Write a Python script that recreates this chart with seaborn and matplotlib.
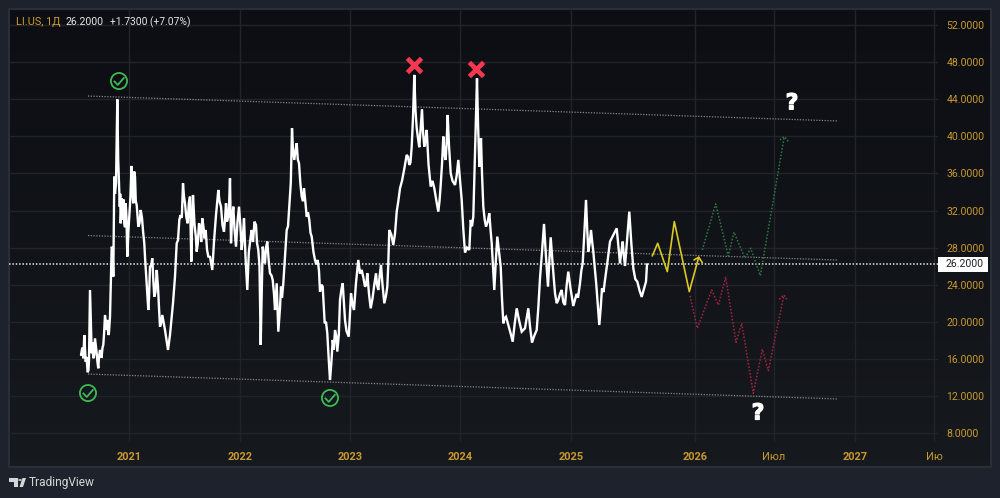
# -*- coding: utf-8 -*-
# LI.US daily chart, TradingView style
import numpy as np
import pandas as pd
import matplotlib
matplotlib.use("Agg")
import matplotlib.pyplot as plt
import seaborn as sns
import matplotlib.patheffects as pe
from matplotlib.colors import LinearSegmentedColormap
from matplotlib.markers import MarkerStyle
from matplotlib.patches import Polygon, Rectangle
from matplotlib.path import Path

# %%
# data, time axis is a plain position along the chart
# main swings first
price_t = [81, 83.3, 84.3, 85.7, 87.7, 89, 90, 91.7, 93.3, 95, 96.7, 98.3, 100, 103.3, 105, 106.7, 108.3, 110,
           111.7, 113.3, 114.3, 116, 117.3, 119, 120.7, 121.7, 124.3, 125.7, 127.3, 129.3, 131.7, 133.3, 135,
           136.7, 138.3, 140.7, 144.3, 146, 148.3, 150, 152.3, 154.3, 156.7, 160, 162.3, 165, 168, 171.7, 175,
           176.7, 179.3, 183, 185, 187.7, 190, 191.3, 193, 196.7, 199, 202.3, 205.7, 208.3, 212.3, 214, 218.3,
           221, 224, 226, 228.3, 230, 231, 233.3, 236, 239, 241.7, 244, 247.3, 250.7,
           251.7, 256, 258.3, 260.7, 262.7, 265, 267.3, 270, 272.7, 275, 276.7, 278.3, 281, 283.3, 286.7, 289.3,
           292, 294.3, 296.7, 299, 301.7, 304, 306.7, 309.3, 311.7, 315, 317.7, 320, 322.7, 324.7, 327.3, 330,
           332.7, 335, 337.3, 340, 342.7, 345, 348.7, 351, 354, 358.3, 361.7, 365, 367.3, 370.7, 376, 378.3, 381,
           384.3, 387.3, 389.3, 393.3, 396.7, 400,
           406.7, 409.3, 411.7, 414.3, 416.7, 419.3, 422, 424.3, 426.7, 430.7, 434.3, 438.3, 440.7, 443.3, 445.7,
           447.7, 450.7, 455, 458.3, 461.7, 465, 469.3, 470.7, 473.3, 477, 479.3, 481, 483.3, 486, 489.3, 491.7,
           494.3, 497.3, 500.7, 503.3, 506, 512.7, 516.7, 521.7, 528.3, 532, 536.7, 540, 544, 548, 550.7, 555,
           558.3, 561.7, 565, 568.3, 573.3, 580, 582.7, 586, 588.3, 591, 593.3, 599.3, 602, 605, 610, 616.7, 620,
           622.7, 625, 629.3, 633.3, 637.3, 641.7, 646, 647]
price_v = [16.42, 16.06, 18.57, 15.7, 14.55, 15.88, 23.43, 16.6, 16.06, 18.21, 16.6, 14.98, 16.96, 17.5, 20.73, 19.11,
           18.57, 20.55, 28.1, 24.87, 35.66, 34.94, 44.0, 34.94, 30.62, 33.32, 30.62, 32.78, 27.03, 31.34, 36.81,
           32.78, 35.66, 32.6, 30.26, 32.06, 28.47, 25.23, 21.27, 25.95, 26.85, 22.71, 25.59, 19.47, 20.73, 19.11,
           16.96, 20.55, 24.87, 28.47, 30.98, 34.94, 32.78, 30.62, 33.5, 26.49, 33.68, 27.57, 30.62, 31.16, 29.9,
           27.03, 25.59, 28.65, 34.22, 32.42, 29.72, 32.78, 31.34, 35.48, 28.47, 32.42, 28.1, 32.42, 27.75, 31.16,
           23.43, 29.19,
           29.9, 30.44, 27.75, 17.5, 28.1, 26.31, 28.65, 25.23, 24.51, 21.27, 24.15, 18.93, 23.79, 24.15, 29.9, 32.42,
           40.88, 37.46, 39.26, 37.1, 33.5, 34.4, 31.34, 30.98, 29.19, 26.67, 26.67, 23.25, 23.79, 19.83, 18.75, 13.72,
           18.03, 19.11, 16.78, 22.35, 24.15, 20.19, 18.39, 23.07, 21.27, 26.67, 25.59, 23.79, 25.23, 21.45, 25.23,
           23.43, 26.13, 21.99, 23.79, 29.9, 28.29, 31.88, 34.4,
           38.0, 36.92, 38.9, 46.63, 40.88, 38.83, 42.93, 38.9, 40.7, 34.58, 34.4, 31.88, 34.76, 39.98, 37.46,
           42.31, 36.02, 34.76, 37.46, 33.14, 27.46, 27.75, 30.98, 31.34, 46.27, 36.74, 39.8, 32.42, 30.26, 31.7, 28.47,
           23.43, 29.19, 25.95, 19.83, 20.55, 17.85, 21.45, 18.93, 21.45, 17.75, 19.11, 24.69, 30.55, 23.79, 29.11, 23.07,
           22.35, 23.43, 21.81, 25.41, 21.7, 24.15, 26.31, 33.14, 27.57, 29.9, 27.57, 19.65, 23.61, 24.51, 28.65, 30.08, 26.31,
           28.65, 26.02, 31.88, 25.77, 24.33, 22.68, 24.33, 26.2]

# smaller wiggles between the swings, rough estimates from the zoomed crops
wiggle_t = [82.3, 86.5, 88.5, 92.5, 94.2, 97.5, 99, 101.5, 102.5, 104, 107.5, 109,
            112.5, 115, 118.2, 119.8, 120.2, 122.5, 123.4, 125, 126.5, 128.4, 130.4, 131, 132.5, 134.2, 135.8, 137.5,
            139.5, 142, 143.2, 145, 147, 149, 151, 153.3, 155.5, 158, 159, 161, 163.5, 166.5, 170, 173, 178, 180.5,
            181.8, 184, 186.3, 188.8, 191.8, 194.5, 195.8, 197.8, 200.5, 201.2, 203.5, 204.5, 207, 210, 216, 219.5,
            222.5, 225, 227, 229.2, 232, 234.5, 237.5, 240.3, 243, 245.5, 248.8, 253, 254.5, 257, 259.5, 261.5, 264,
            266, 268.7, 271.5, 274, 277.5, 280, 282, 285, 288, 290.8, 293, 295.5, 297.8, 300.3, 303, 305.3, 308, 310.5,
            313.5, 316.3, 319, 321.5, 323.8, 326, 328.7, 331.3, 333.8, 336.2, 338.8, 341.4, 343.8, 346.5, 349.8, 352.5,
            356, 360, 363.3, 366.3, 369, 372.5, 374.3, 377, 379.7, 382.5, 386, 388.2, 391.3, 395, 398.3, 402, 404.3,
            408, 410.5, 413, 415.5, 418, 420.7, 423, 425.5, 428.5, 432.5, 436.3, 439.5, 442, 444.5, 446.7, 449, 452.5,
            456.7, 460, 463.3, 467, 472, 475, 478, 480.2, 482, 484.7, 487.7, 490.5, 493, 495.8, 499, 502, 504.7, 509,
            511, 514.7, 519, 525, 527, 530, 534.3, 538.3, 542, 546, 549.3, 552.8, 556.7, 560, 563.3, 566.7, 570.5,
            576.5, 578, 581.3, 584.3, 587.2, 589.7, 592.2, 596.3, 600.7, 603.5, 607.5, 613, 618.3, 621.3, 623.8, 627.2,
            631.3, 635.3, 639.5, 643.8]
wiggle_v = [17.2, 16.2, 14.8, 17.8, 16.4, 15.6, 16.2, 16.1, 17.2, 18.6, 20.2, 18.9,
            27.9, 33.8, 37.5, 32.4, 33.8, 31, 33.2, 30.2, 31.2, 29.8, 33.4, 35.2, 33.8, 36.2, 33, 31.4,
            30.6, 31.2, 29.6, 27, 23.6, 22.6, 26, 24.5, 23.2, 23.8, 21.5, 19.8, 20, 18, 18.6, 22, 28.8, 31.5,
            31.2, 33.5, 31.3, 32.8, 29, 30.5, 29.2, 28.5, 30, 28.6, 30.2, 29, 27.8, 27, 31.5, 33,
            30.4, 31, 30.8, 33, 31, 30, 30.8, 30.5, 29.4, 27, 27.5, 28.6, 30.8, 28.5, 26, 22, 27,
            28, 26.6, 25, 23, 21.5, 21.5, 22.6, 27, 30.3, 35, 38.5, 38.5, 37.5, 35, 33, 33, 31.8, 29.6,
            27.5, 26.2, 25.5, 24, 21.5, 20, 16, 15.5, 17, 18.5, 18.6, 23.5, 22.2, 19, 20.5, 21.9,
            24.2, 25.2, 24.8, 24, 23, 22.5, 24, 24, 25, 24, 22.8, 26, 29.4, 29.5, 33, 35.2, 36.5,
            37.8, 37.2, 42, 42.8, 39.8, 41, 40.5, 39.6, 37, 35.2, 33.1, 33, 37, 38, 39.5, 39, 35.2,
            35.8, 35.3, 30, 28, 30.3, 38, 41.5, 38.2, 36, 31, 30.8, 30, 26, 26.5, 27.6, 22.5, 20.4, 19.4,
            18.6, 19.8, 20.2, 19.3, 20.6, 19.5, 18.5, 21.5, 27.5, 27, 26.5, 26, 22, 23, 22.1, 24, 23.6,
            23, 22.6, 25.5, 29.5, 30, 28.5, 28.6, 24, 21.5, 23.2, 26.5, 29.3, 28.2, 27.5, 27.2, 29,
            28.5, 24.6, 23.4, 23.5]

yellow_t = [652.3, 657.7, 667.3, 674.3, 689.3, 698.7]
yellow_v = [27.1, 28.47, 25.41, 30.81, 23.25, 26.96]
yellow_head_t = [694, 698.7, 702.3]
yellow_head_v = [26.67, 26.96, 26.38]

green_t = [702.3, 715.7, 728.3, 734, 745, 750.7, 760.3, 784.3]
green_v = [27.75, 32.72, 27.1, 29.66, 26.85, 27.93, 24.98, 39.98]
green_head_t = [780, 784.3, 789]
green_head_v = [39.62, 39.98, 39.37]

red_t = [690, 697.3, 711.7, 718.3, 725.7, 736, 741.7, 753.3, 762.3, 768.3, 784]
red_v = [22.79, 19.3, 23.43, 21.81, 24.8, 17.78, 19.84, 12.28, 17.03, 14.73, 22.89]
red_head_t = [779.3, 784, 787.7]
red_head_v = [22.43, 22.89, 22.28]

channel_t = [88, 838]
channel_top = [44.35, 41.66]
channel_mid = [29.3, 26.66]
channel_low = [14.36, 11.67]

check_t = [119, 88, 330]
check_v = [45.97, 12.31, 11.78]
cross_t = [414.5, 476]
cross_v = [47.7, 47.32]
question_t = [792, 758]
question_v = [43.55, 10.1]

last_price = 26.2
price_ticks = [8, 12, 16, 20, 24, 28, 32, 36, 40, 44, 48, 52]
time_ticks = [129.5, 240, 350, 460.5, 571.5, 695, 774, 855, 934]
time_labels = ["2021", "2022", "2023", "2024", "2025", "2026", "Июл", "2027", "Ию"]

# %%
# colours
outer_bg = "#1e222d"
edge_col = "#2a2e39"
grid_col = "#212429"
gold = "#c9992f"
trend_col = "#85878c"

sns.set_theme(style="dark")
plt.rcParams["font.family"] = ["Roboto", "DejaVu Sans"]

W, H = 1000, 498
fig = plt.figure(figsize=(W / 100, H / 100), dpi=100, facecolor=outer_bg)


def px_box(x0, y0, x1, y1):
    return [x0 / W, 1 - y1 / H, (x1 - x0) / W, (y1 - y0) / H]


# %%
# panel behind the chart, slight dark gradient top to bottom
bg_ax = fig.add_axes(px_box(9, 9, 991, 467), zorder=0)
grad = np.linspace(0, 1, 64).reshape(-1, 1)
bg_ax.imshow(grad, aspect="auto", cmap=LinearSegmentedColormap.from_list("p", ["#0c0e13", "#16191e"]))
bg_ax.set_xticks([])
bg_ax.set_yticks([])
for s in bg_ax.spines.values():
    s.set_color(edge_col)
    s.set_linewidth(1.5)

ax = fig.add_axes(px_box(9, 9, 938, 442), zorder=1)
ax.set_facecolor("none")
for s in ax.spines.values():
    s.set_visible(False)

# %%
# channel lines
dots = (0, (1, 1.2))
for vals in [channel_top, channel_mid, channel_low]:
    sns.lineplot(x=channel_t, y=vals, ax=ax, color=trend_col, linewidth=0.9, linestyle=dots, estimator=None, sort=False)

# last price line
ax.axhline(last_price, color="#e8e8e8", linewidth=1.1, linestyle=dots, zorder=2)

# price itself, swings and wiggles merged in time order
price_df = pd.DataFrame({"t": price_t + wiggle_t, "v": price_v + wiggle_v}).sort_values("t")
sns.lineplot(data=price_df, x="t", y="v", ax=ax, color="white", linewidth=1.7, estimator=None, sort=False,
             solid_joinstyle="miter", zorder=4)

# scenarios
sns.lineplot(x=yellow_t, y=yellow_v, ax=ax, color="#d9c824", linewidth=1.2, estimator=None, sort=False, zorder=3)
sns.lineplot(x=yellow_head_t, y=yellow_head_v, ax=ax, color="#d9c824", linewidth=1.2, estimator=None, sort=False, zorder=3)
sns.lineplot(x=green_t, y=green_v, ax=ax, color="#2f7a42", linewidth=1.1, linestyle=dots, estimator=None, sort=False, zorder=3)
sns.lineplot(x=green_head_t, y=green_head_v, ax=ax, color="#2f7a42", linewidth=1.1, linestyle=dots, estimator=None, sort=False, zorder=3)
sns.lineplot(x=red_t, y=red_v, ax=ax, color="#a8263d", linewidth=1.1, linestyle=dots, estimator=None, sort=False, zorder=3)
sns.lineplot(x=red_head_t, y=red_head_v, ax=ax, color="#a8263d", linewidth=1.1, linestyle=dots, estimator=None, sort=False, zorder=3)

# %%
# axis setup comes after the plots, seaborn writes its own labels otherwise
ax.set_xlim(9, 938)
ax.set_ylim(7.03, 53.74)
ax.set_yticks(price_ticks)
ax.set_yticklabels([f"{p:.4f}" for p in price_ticks])
ax.set_xticks(time_ticks)
ax.set_xticklabels(time_labels)
ax.yaxis.tick_right()
ax.tick_params(axis="y", length=0, pad=6, labelsize=7.6, labelcolor=gold)
ax.tick_params(axis="x", length=0, pad=7, labelsize=7.9, labelcolor=gold)
for lab in ax.get_xticklabels():
    if lab.get_text().isdigit():
        lab.set_fontweight("bold")
ax.grid(True, color=grid_col, linewidth=1)
ax.set_axisbelow(True)
ax.set_xlabel("")
ax.set_ylabel("")

# %%
# check marks, crosses, question marks
tick_path = Path([(-0.5, 0.02), (-0.12, -0.38), (0.52, 0.36)])
sns.scatterplot(x=check_t, y=check_v, ax=ax, marker="o", s=135, facecolors="none", edgecolor="#3dba55",
                linewidth=1.3, zorder=6)
ax.scatter(check_t, check_v, marker=tick_path, s=60, facecolors="none", edgecolors="#3dba55", linewidths=1.3, zorder=6)
cross_marker = MarkerStyle("x", capstyle="round")
ax.scatter(cross_t, cross_v, marker=cross_marker, s=105, color="#f7374f", linewidths=3.4, zorder=6)
for t, v in zip(question_t, question_v):
    ax.text(t, v, "?", color="white", fontsize=16, fontweight="bold", ha="center", va="center",
            family="DejaVu Sans", zorder=6,
            path_effects=[pe.withStroke(linewidth=0.8, foreground="white")])

# %%
# last price tag on the scale
ax.add_patch(Rectangle((938, last_price - 0.81), 50, 1.62, facecolor="white", edgecolor="none", clip_on=False, zorder=7))
ax.text(946, last_price, f"{last_price:.4f}", color="#202328", fontsize=7.6, ha="left", va="center", zorder=8)

# %%
# header and footer text
fig.text(16 / W, 1 - 22 / H, "LI.US, 1Д", color=gold, fontsize=7.9, va="center", ha="left")
fig.text(66 / W, 1 - 22 / H, "26.2000", color="#e6e6e6", fontsize=7.6, va="center", ha="left")
fig.text(110 / W, 1 - 22 / H, "+1.7300 (+7.07%)", color="#e6e6e6", fontsize=7.4, va="center", ha="left")
fig.text(29 / W, 1 - 482.5 / H, "TradingView", color="#d5d6d9", fontsize=8.6, va="center", ha="left")

# logo
logo_col = "#d5d6d9"
logo_shapes = [
    [(9, 478), (18, 478), (18, 487), (14, 487), (14, 481.5), (9, 481.5)],
    [(19.5, 487), (23, 487), (26, 478), (22.5, 478)],
]
for pts in logo_shapes:
    fig.add_artist(Polygon([(x / W, 1 - y / H) for x, y in pts], closed=True, facecolor=logo_col, edgecolor="none",
                           transform=fig.transFigure))
fig.add_artist(plt.Circle((20 / W, 1 - 480 / H), 1.8 / W, facecolor=logo_col, edgecolor="none", transform=fig.transFigure))

fig.savefig("out.png", dpi=100, facecolor=outer_bg)
